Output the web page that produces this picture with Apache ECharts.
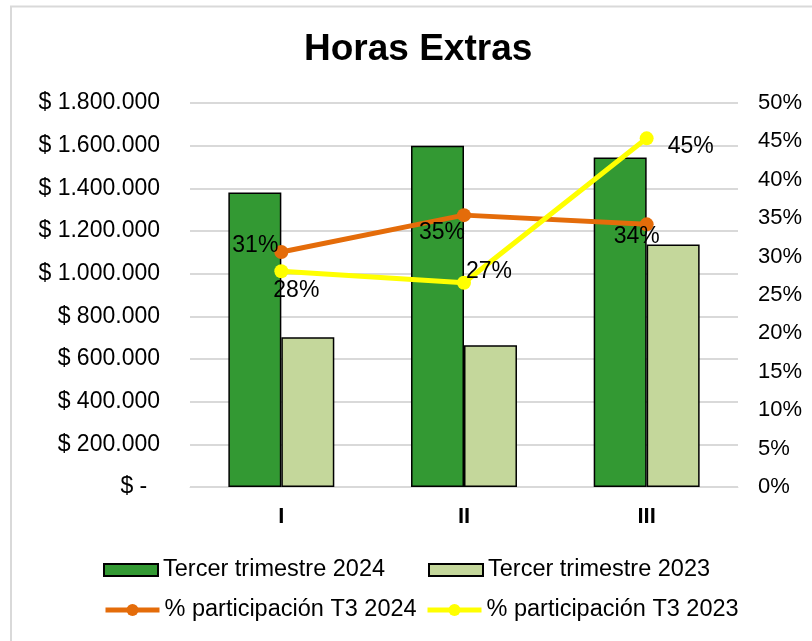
<!DOCTYPE html>
<html>
<head>
<meta charset="utf-8">
<script src="https://cdn.jsdelivr.net/npm/echarts@6/dist/echarts.min.js"></script>
<style>
  html, body { margin: 0; padding: 0; background: #fff; }
  #chart { width: 812px; height: 641px; }
</style>
</head>
<body>
<div id="chart"></div>
<script>
// datos
const trimestres = ['I', 'II', 'III'];
const horas2024 = [1380000, 1600000, 1545000];
const horas2023 = [702000, 665000, 1137000];
const part2024 = [0.306, 0.354, 0.342];
const part2023 = [0.281, 0.266, 0.454];

const FONT = 'Liberation Sans, Arial, sans-serif';

// "$ 1.800.000" con separador de miles en punto
const formatoPesos = (v) => {
  if (v === 0) return '$ -  ';
  return '$ ' + String(v).replace(/\B(?=(\d{3})+(?!\d))/g, '.');
};
const formatoPct = (v) => Math.round(v * 100) + '%';

// ubicación de etiquetas de cada punto
const posEtiq2024 = [
  { position: 'left', offset: [9, -6] },
  { position: 'bottom', offset: [-22, -6] },
  { position: 'bottom', offset: [-10, -11] }
];
const posEtiq2023 = [
  { position: 'bottom', offset: [15, -4] },
  { position: 'right', offset: [-10, -11] },
  { position: 'right', offset: [9, 8] }
];

const chart = echarts.init(document.getElementById('chart'), null, { renderer: 'canvas' });

const legendaBase = {
  itemWidth: 54,
  itemHeight: 12,
  itemGap: 0,
  textStyle: { fontFamily: FONT, fontSize: 23.5, color: '#000' },
  selectedMode: false,
  padding: 0
};
const legendaBarra = { icon: 'rect' };
const legendaLinea = {
  itemWidth: 54,
  itemHeight: 15,
  lineStyle: { width: 5 }
};

const etiquetaPct = {
  show: true,
  fontFamily: FONT,
  fontSize: 23,
  color: '#000',
  formatter: (p) => formatoPct(p.value)
};

const option = {
  backgroundColor: '#fff',
  animation: false,
  title: {
    text: 'Horas Extras',
    left: 299,
    top: 26,
    textStyle: { fontFamily: FONT, fontSize: 37, fontWeight: 'bold', color: '#000' }
  },
  graphic: [{
    type: 'polyline',
    shape: { points: [[11, 700], [11, 6.5], [900, 6.5]] },
    style: { stroke: '#d9d9d9', lineWidth: 2, fill: null },
    silent: true
  }],
  legend: [
    Object.assign({}, legendaBase, legendaBarra, { data: ['Tercer trimestre 2024'], left: 103, top: 558 }),
    Object.assign({}, legendaBase, legendaBarra, { data: ['Tercer trimestre 2023'], left: 428, top: 558 }),
    Object.assign({}, legendaBase, legendaLinea, { data: ['% participación T3 2024'], left: 103, top: 598 }),
    Object.assign({}, legendaBase, legendaLinea, { data: ['% participación T3 2023'], left: 425, top: 598 })
  ],
  grid: { left: 190, right: 74, top: 103, bottom: 154 },
  xAxis: {
    type: 'category',
    data: trimestres,
    axisTick: { show: false },
    axisLine: { show: true, lineStyle: { color: '#d9d9d9', width: 1 } },
    axisLabel: { fontFamily: FONT, fontSize: 22, fontWeight: 'bold', color: '#000', margin: 19 }
  },
  yAxis: [
    {
      type: 'value',
      min: 0,
      max: 1800000,
      interval: 200000,
      axisLine: { show: false },
      axisTick: { show: false },
      splitLine: { lineStyle: { color: '#d9d9d9', width: 2 } },
      axisLabel: { fontFamily: FONT, fontSize: 23, color: '#000', margin: 30, formatter: formatoPesos }
    },
    {
      type: 'value',
      min: 0,
      max: 0.5,
      interval: 0.05,
      position: 'right',
      axisLine: { show: false },
      axisTick: { show: false },
      splitLine: { show: false },
      axisLabel: { fontFamily: FONT, fontSize: 22, color: '#000', margin: 20, formatter: formatoPct }
    }
  ],
  series: [
    {
      name: 'Tercer trimestre 2024',
      type: 'bar',
      data: horas2024,
      barWidth: '29%',
      barGap: '0%',
      itemStyle: { color: '#339933', borderColor: '#000', borderWidth: 1.5 }
    },
    {
      name: 'Tercer trimestre 2023',
      type: 'bar',
      data: horas2023,
      barWidth: '29%',
      barGap: '0%',
      itemStyle: { color: '#c4d79b', borderColor: '#000', borderWidth: 1.5 }
    },
    {
      name: '% participación T3 2024',
      type: 'line',
      yAxisIndex: 1,
      data: part2024.map((v, i) => ({ value: v, label: posEtiq2024[i] })),
      symbol: 'circle',
      symbolSize: 14,
      lineStyle: { color: '#e46c0a', width: 5 },
      itemStyle: { color: '#e46c0a' },
      label: etiquetaPct,
      z: 5
    },
    {
      name: '% participación T3 2023',
      type: 'line',
      yAxisIndex: 1,
      data: part2023.map((v, i) => ({ value: v, label: posEtiq2023[i] })),
      symbol: 'circle',
      symbolSize: 14,
      lineStyle: { color: '#ffff00', width: 5 },
      itemStyle: { color: '#ffff00' },
      label: etiquetaPct,
      z: 6
    }
  ]
};

chart.setOption(option);
</script>
</body>
</html>
